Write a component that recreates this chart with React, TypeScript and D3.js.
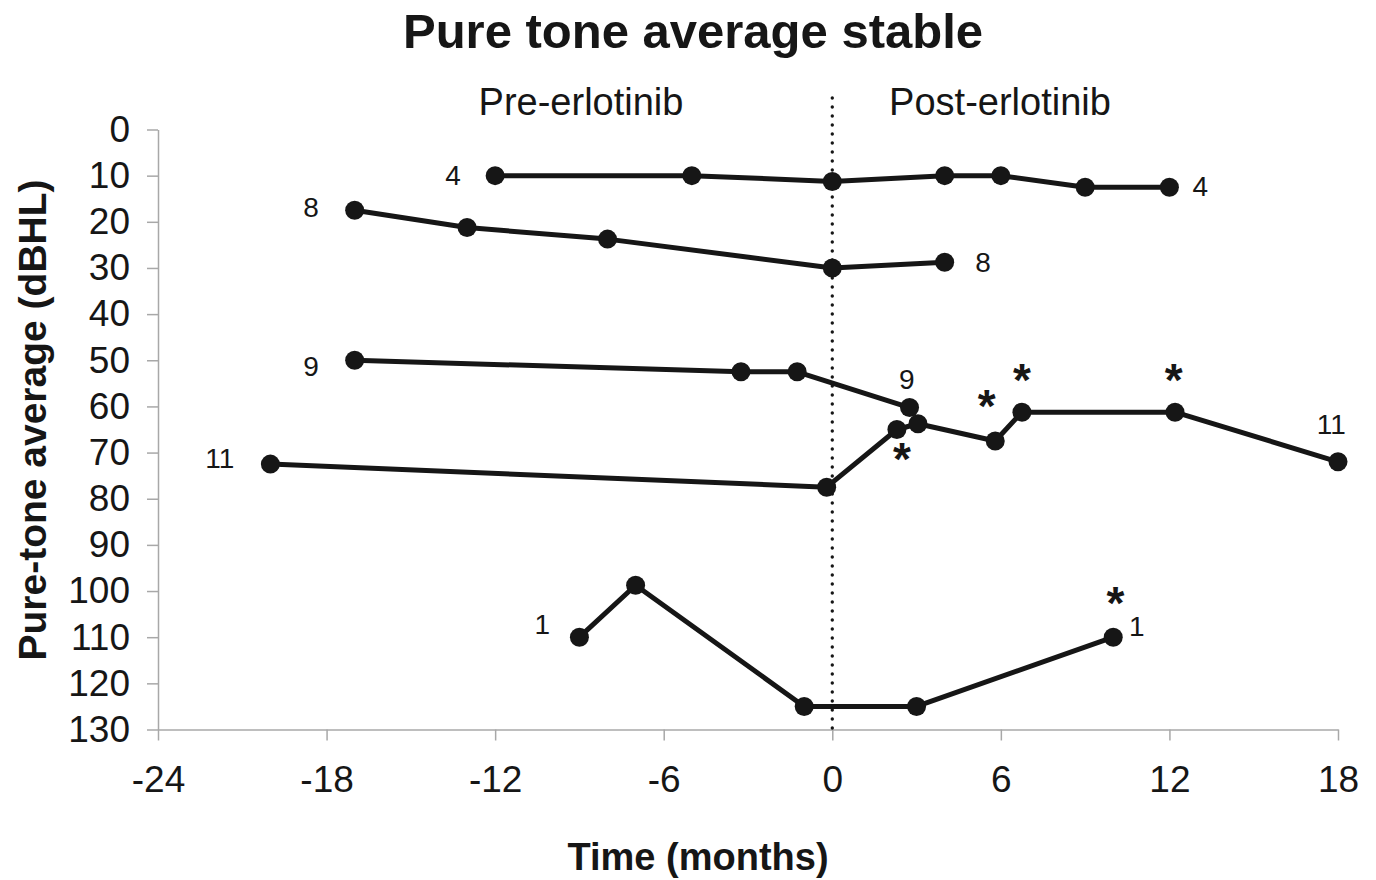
import React, { useEffect, useRef } from "react";
import * as d3 from "d3";

// months relative to start of erlotinib, pure-tone average in dBHL
const p4Months = [-12, -5, 0, 4, 6, 9, 12];
const p4Pta = [10, 10, 11.25, 10, 10, 12.5, 12.5];

const p8Months = [-17, -13, -8, 0, 4];
const p8Pta = [17.5, 21.25, 23.75, 30, 28.75];

const p9Months = [-17, -3.25, -1.25, 2.75];
const p9Pta = [50, 52.5, 52.5, 60.25];

const p11Months = [-20, -0.2, 2.3, 3.05, 5.8, 6.75, 12.2, 18];
const p11Pta = [72.5, 77.5, 65, 63.75, 67.5, 61.25, 61.25, 72];

const p1Months = [-9, -7, -1, 3, 10];
const p1Pta = [110, 98.75, 125, 125, 110];

const xTicks = [-24, -18, -12, -6, 0, 6, 12, 18];
const yTicks = [0, 10, 20, 30, 40, 50, 60, 70, 80, 90, 100, 110, 120, 130];

// patient numbers written beside the lines (text centre, data units)
const labelText = ["4", "4", "8", "8", "9", "9", "11", "11", "1", "1"];
const labelMonths = [-13.5, 13.1, -18.55, 5.37, -18.55, 2.65, -21.8, 17.76, -10.32, 10.84];
const labelPta = [9.8, 12.2, 16.7, 28.7, 51.2, 54.0, 71.2, 63.7, 107.2, 107.6];

// asterisks (centre, data units)
const starMonths = [2.48, 5.5, 6.75, 12.15, 10.08];
const starPta = [69, 57.7, 51.9, 51.9, 100.2];

const series = [
  { months: p4Months, pta: p4Pta },
  { months: p8Months, pta: p8Pta },
  { months: p9Months, pta: p9Pta },
  { months: p11Months, pta: p11Pta },
  { months: p1Months, pta: p1Pta },
];

const W = 1376;
const H = 880;
const margin = { top: 129.5, right: 38, bottom: 150.5, left: 158 };
const font = "'Liberation Sans', Arial, sans-serif";
const ink = "#161616";

const App = () => {
  const svgRef = useRef<SVGSVGElement>(null);

  useEffect(() => {
    const svg = d3.select(svgRef.current);
    svg.selectAll("*").remove();

    const x = d3.scaleLinear().domain([-24, 18]).range([margin.left, W - margin.right]);
    const y = d3.scaleLinear().domain([0, 130]).range([margin.top, H - margin.bottom]);

    // axes (plain hyphen for negatives, like the original)
    const fmt = (d: d3.NumberValue) => String(d);
    const yAxis = svg.append("g")
      .attr("transform", `translate(${margin.left},0)`)
      .call(d3.axisLeft(y).tickValues(yTicks).tickFormat(fmt).tickSize(11).tickSizeOuter(0).tickPadding(17));
    const xAxis = svg.append("g")
      .attr("transform", `translate(0,${H - margin.bottom})`)
      .call(d3.axisBottom(x).tickValues(xTicks).tickFormat(fmt).tickSize(11).tickSizeOuter(0).tickPadding(25));

    [yAxis, xAxis].forEach(g => {
      g.select(".domain").attr("stroke", "#a8a8a8").attr("stroke-width", 1.5);
      g.selectAll(".tick line").attr("stroke", "#a8a8a8").attr("stroke-width", 1.5);
      g.selectAll(".tick text")
        .attr("fill", ink)
        .attr("font-family", font)
        .attr("font-size", 37);
    });

    // erlotinib start
    svg.append("line")
      .attr("x1", x(0)).attr("x2", x(0))
      .attr("y1", 98).attr("y2", y(130))
      .attr("stroke", ink)
      .attr("stroke-width", 3.4)
      .attr("stroke-linecap", "round")
      .attr("stroke-dasharray", "0 9");

    // lines + markers
    series.forEach(s => {
      const pts: [number, number][] = s.months.map((m, i) => [x(m), y(s.pta[i])]);
      svg.append("path")
        .attr("d", d3.line()(pts))
        .attr("fill", "none")
        .attr("stroke", ink)
        .attr("stroke-width", 5)
        .attr("stroke-linejoin", "round");
      svg.append("g")
        .selectAll("circle")
        .data(pts)
        .join("circle")
        .attr("cx", d => d[0])
        .attr("cy", d => d[1])
        .attr("r", 9.5)
        .attr("fill", ink);
    });

    // patient numbers
    svg.append("g")
      .selectAll("text")
      .data(labelText)
      .join("text")
      .attr("x", (_, i) => x(labelMonths[i]))
      .attr("y", (_, i) => y(labelPta[i]) + 0.358 * 28)
      .attr("text-anchor", "middle")
      .attr("font-family", font)
      .attr("font-size", 28)
      .attr("fill", ink)
      .text(d => d);

    // asterisks
    svg.append("g")
      .selectAll("text")
      .data(starMonths)
      .join("text")
      .attr("x", d => x(d))
      .attr("y", (_, i) => y(starPta[i]) + 0.58 * 46)
      .attr("text-anchor", "middle")
      .attr("font-family", font)
      .attr("font-weight", "bold")
      .attr("font-size", 46)
      .attr("fill", ink)
      .text("*");

    // titles
    svg.append("text")
      .attr("x", 693).attr("y", 48)
      .attr("text-anchor", "middle")
      .attr("font-family", font)
      .attr("font-weight", "bold")
      .attr("font-size", 49)
      .attr("fill", ink)
      .text("Pure tone average stable");

    svg.append("text")
      .attr("x", 581).attr("y", 115)
      .attr("text-anchor", "middle")
      .attr("font-family", font)
      .attr("font-size", 38)
      .attr("fill", ink)
      .text("Pre-erlotinib");

    svg.append("text")
      .attr("x", 1000).attr("y", 115)
      .attr("text-anchor", "middle")
      .attr("font-family", font)
      .attr("font-size", 38)
      .attr("fill", ink)
      .text("Post-erlotinib");

    svg.append("text")
      .attr("x", 698).attr("y", 870)
      .attr("text-anchor", "middle")
      .attr("font-family", font)
      .attr("font-weight", "bold")
      .attr("font-size", 38)
      .attr("fill", ink)
      .text("Time (months)");

    svg.append("text")
      .attr("transform", `translate(46,420) rotate(-90)`)
      .attr("text-anchor", "middle")
      .attr("font-family", font)
      .attr("font-weight", "bold")
      .attr("font-size", 39)
      .attr("fill", ink)
      .text("Pure-tone average (dBHL)");
  }, []);

  return (
    <svg
      ref={svgRef}
      width={W}
      height={H}
      style={{ position: "absolute", left: 0, top: 0, background: "#fff" }}
    />
  );
};

export default App;
